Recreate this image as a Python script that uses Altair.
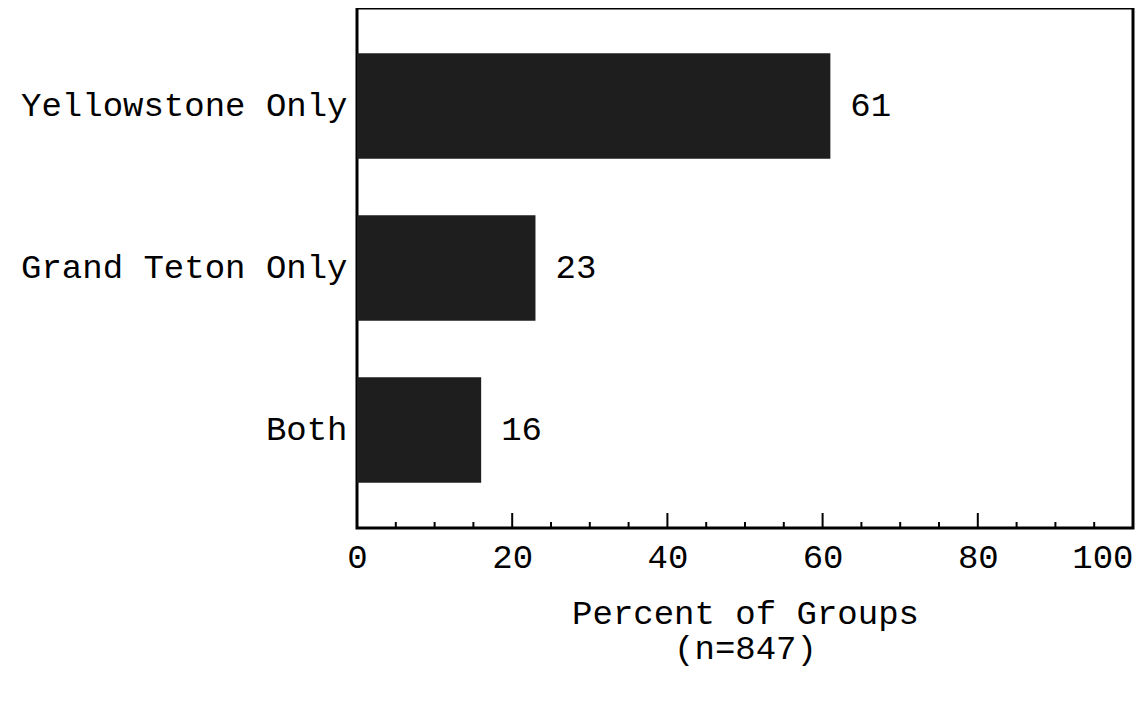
import altair as alt
import pandas as pd

categories = ["Yellowstone Only", "Grand Teton Only", "Both"]
percents = [61, 23, 16]
major_ticks = [0, 20, 40, 60, 80, 100]
minor_ticks = [5, 10, 15, 25, 30, 35, 45, 50, 55, 65, 70, 75, 85, 90, 95]

FONT = "Liberation Mono"
FS = 34

df = pd.DataFrame({"cat": categories, "pct": percents})
major_df = pd.DataFrame({"t": major_ticks})
minor_df = pd.DataFrame({"t": minor_ticks})

W, H = 776, 520

xscale = alt.Scale(domain=[0, 100], nice=False)
yscale = alt.Scale(domain=categories, paddingInner=0.35, paddingOuter=0.28)

bars = alt.Chart(df).mark_bar(color="#1e1e1e").encode(
    x=alt.X("pct:Q", scale=xscale,
            axis=alt.Axis(values=major_ticks, grid=False, domain=False, ticks=False,
                          labelFont=FONT, labelFontSize=FS, labelColor="black",
                          labelPadding=12, labelFlush=False,
                          labelAlign={"condition": {"test": "datum.value === 100", "value": "right"},
                                      "value": "center"},
                          title=["Percent of Groups", "(n=847)"],
                          titleFont=FONT, titleFontSize=FS, titleFontWeight="normal",
                          titleColor="black", titlePadding=22, titleLineHeight=35)),
    y=alt.Y("cat:N", scale=yscale, sort=categories,
            axis=alt.Axis(title=None, domain=False, ticks=False, labelFont=FONT,
                          labelFontSize=FS, labelColor="black", labelPadding=10,
                          labelLimit=600)),
)

labels = alt.Chart(df).mark_text(align="left", baseline="middle", dx=20,
                                 font=FONT, fontSize=FS, color="black").encode(
    x=alt.X("pct:Q", scale=xscale),
    y=alt.Y("cat:N", scale=yscale, sort=categories),
    text="pct:Q",
)

major = alt.Chart(major_df).mark_rule(color="black", strokeWidth=2).encode(
    x=alt.X("t:Q", scale=xscale),
    y=alt.value(H),
    y2=alt.value(H - 15),
)
minor = alt.Chart(minor_df).mark_rule(color="black", strokeWidth=2).encode(
    x=alt.X("t:Q", scale=xscale),
    y=alt.value(H),
    y2=alt.value(H - 6),
)

chart = alt.layer(bars, labels, major, minor).properties(
    width=W, height=H,
    padding={"left": 12, "top": 0, "right": 2, "bottom": 5},
).configure_view(stroke="black", strokeWidth=3)

chart.save("out.html", embed_options={"renderer": "svg", "actions": False})
